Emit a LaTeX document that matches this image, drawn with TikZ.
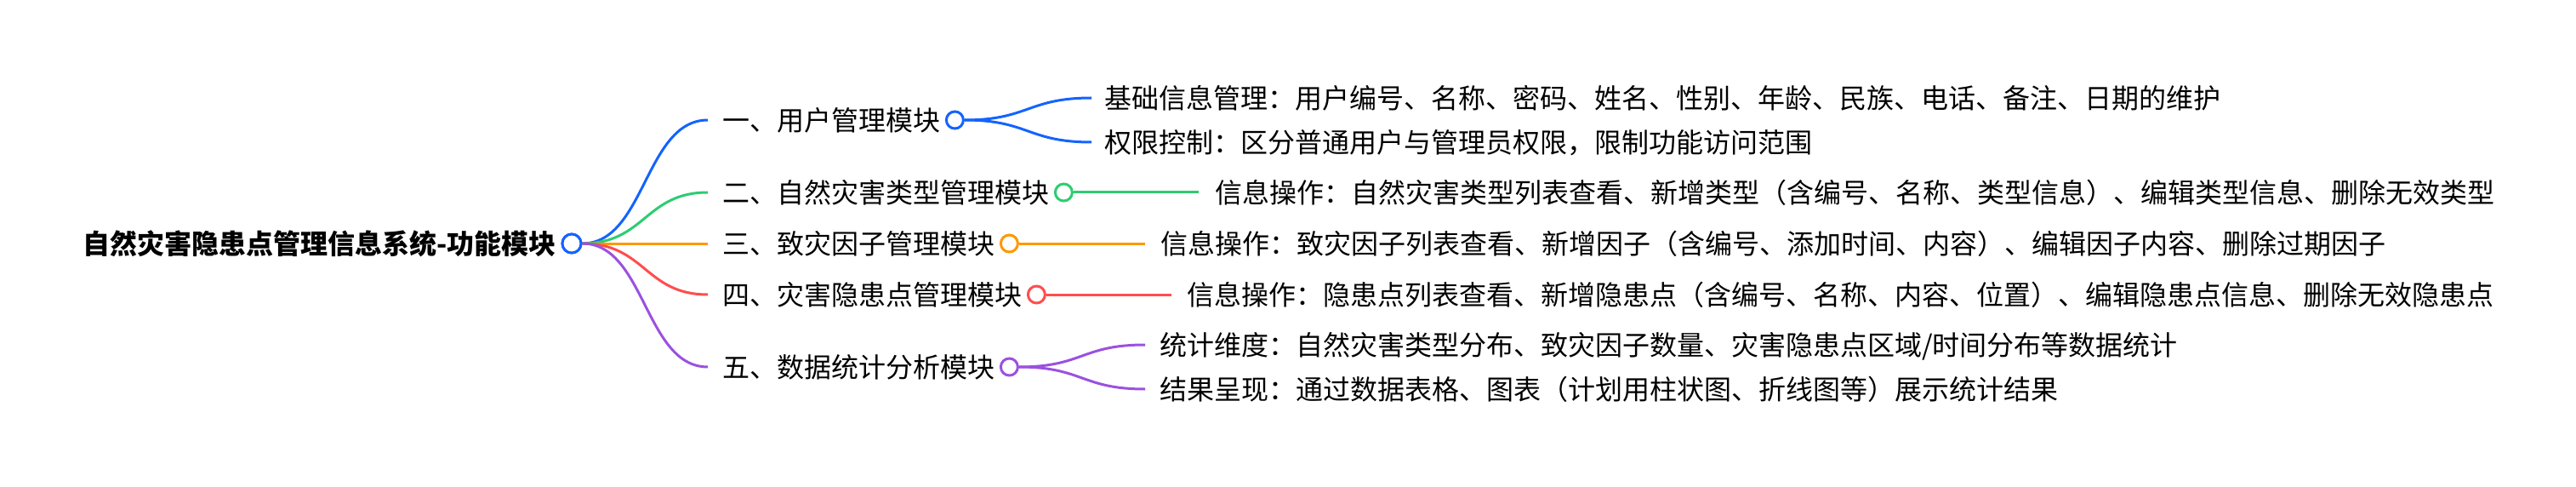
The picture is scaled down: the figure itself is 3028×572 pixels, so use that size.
\documentclass[tikz,border=0pt]{standalone}
\usepackage{fontspec}
\setmainfont{Noto Sans CJK SC}
\usetikzlibrary{calc}
\definecolor{cblue}{HTML}{1463FF}
\definecolor{cgreen}{HTML}{2ECC71}
\definecolor{corange}{HTML}{FF9800}
\definecolor{cred}{HTML}{FF4D4F}
\definecolor{cpurple}{HTML}{9B51E0}
\tikzset{
  txt/.style={font=\fontsize{32}{38}\selectfont, text height=28.2pt, text depth=3.8pt, inner ysep=0pt, inner xsep=17pt, anchor=west, text=black},
  roottxt/.style={font=\fontsize{32}{38}\selectfont\bfseries, text height=28.2pt, text depth=3.8pt, inner sep=0pt, anchor=east, text=black},
  dot/.style={circle, draw=#1, fill=white, line width=3pt, minimum size=20pt, inner sep=0pt},
  link/.style={draw=#1, line width=3pt},
}
\begin{document}
\begin{tikzpicture}[x=1pt,y=-1pt]
\useasboundingbox (0,0) rectangle (3028,572);
% root
\node[dot=cblue, minimum size=22pt] (c0) at (672,286) {};
\node[roottxt] (root) at ($(c0.west)+(-6,0)$) {自然灾害隐患点管理信息系统-功能模块};
% level 1
\node[txt] (a1) at (832,141) {一、用户管理模块};
\node[txt] (a2) at (832,226) {二、自然灾害类型管理模块};
\node[txt] (a3) at (832,286) {三、致灾因子管理模块};
\node[txt] (a4) at (832,346) {四、灾害隐患点管理模块};
\node[txt] (a5) at (832,431) {五、数据统计分析模块};
\node[dot=cblue] (c1) at (a1.east) {};
\node[dot=cgreen] (c2) at (a2.east) {};
\node[dot=corange] (c3) at (a3.east) {};
\node[dot=cred] (c4) at (a4.east) {};
\node[dot=cpurple] (c5) at (a5.east) {};
% level 2
\node[txt, inner xsep=15pt] (b1) at (1283,115) {基础信息管理：用户编号、名称、密码、姓名、性别、年龄、民族、电话、备注、日期的维护};
\node[txt, inner xsep=15pt] (b2) at (1283,167) {权限控制：区分普通用户与管理员权限，限制功能访问范围};
\node[txt, inner xsep=19pt] (b3) at (1409,226) {信息操作：自然灾害类型列表查看、新增类型（含编号、名称、类型信息）、编辑类型信息、删除无效类型};
\node[txt, inner xsep=18pt] (b4) at (1346,286) {信息操作：致灾因子列表查看、新增因子（含编号、添加时间、内容）、编辑因子内容、删除过期因子};
\node[txt, inner xsep=18pt] (b5) at (1377,346) {信息操作：隐患点列表查看、新增隐患点（含编号、名称、内容、位置）、编辑隐患点信息、删除无效隐患点};
\node[txt] (b6) at (1346,405) {统计维度：自然灾害类型分布、致灾因子数量、灾害隐患点区域/时间分布等数据统计};
\node[txt] (b7) at (1346,457) {结果呈现：通过数据表格、图表（计划用柱状图、折线图等）展示统计结果};
% root links
\draw[link=cblue] (c0.east) .. controls +(74,0) and +(-74,0) .. (a1.west);
\draw[link=cgreen] (c0.east) .. controls +(74,0) and +(-74,0) .. (a2.west);
\draw[link=corange] (c0.east) -- (a3.west);
\draw[link=cred] (c0.east) .. controls +(74,0) and +(-74,0) .. (a4.west);
\draw[link=cpurple] (c0.east) .. controls +(74,0) and +(-74,0) .. (a5.west);
% level1 -> level2 links
\draw[link=cblue] (c1.east) .. controls +(75,0) and +(-75,0) .. (b1.west);
\draw[link=cblue] (c1.east) .. controls +(75,0) and +(-75,0) .. (b2.west);
\draw[link=cgreen] (c2.east) -- (b3.west);
\draw[link=corange] (c3.east) -- (b4.west);
\draw[link=cred] (c4.east) -- (b5.west);
\draw[link=cpurple] (c5.east) .. controls +(75,0) and +(-75,0) .. (b6.west);
\draw[link=cpurple] (c5.east) .. controls +(75,0) and +(-75,0) .. (b7.west);
% redraw root circle on top
\node[dot=cblue, minimum size=22pt] at (c0) {};
\end{tikzpicture}
\end{document}
